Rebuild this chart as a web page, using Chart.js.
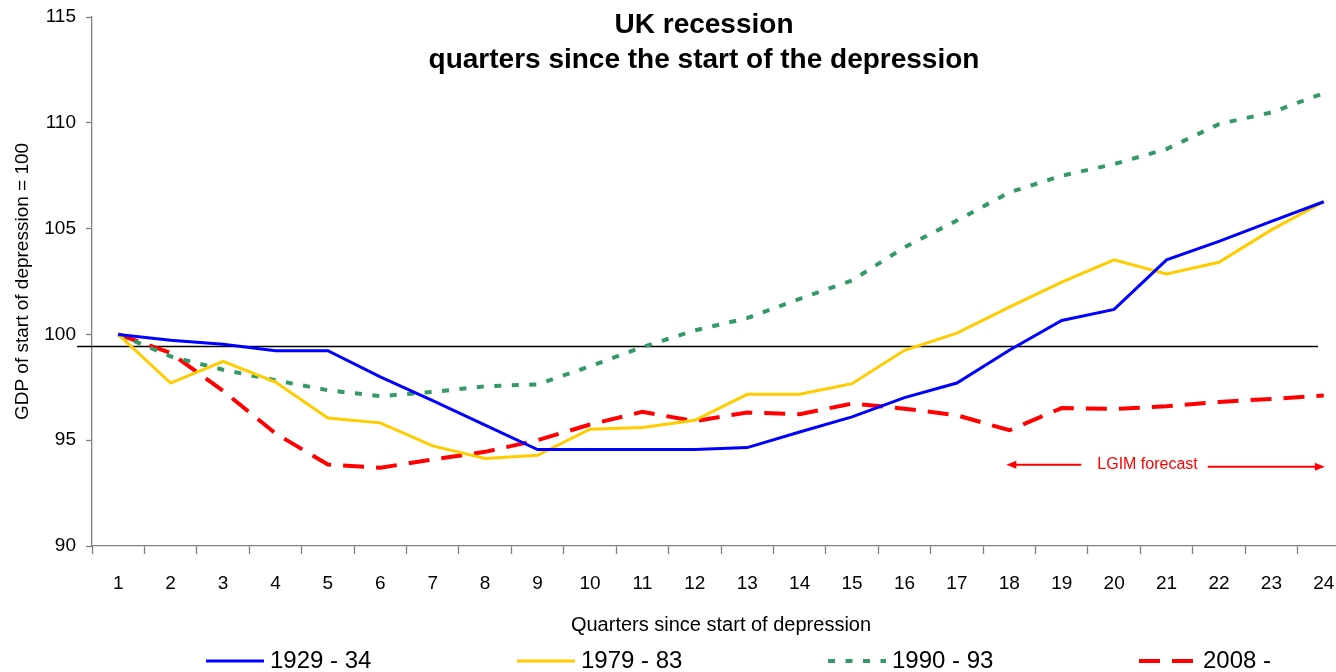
<!DOCTYPE html>
<html>
<head>
<meta charset="utf-8">
<title>UK recession</title>
<script src="https://cdn.jsdelivr.net/npm/chart.js@4.4.1/dist/chart.umd.min.js"></script>
<style>
  html, body { margin: 0; padding: 0; background: #ffffff; overflow: hidden; }
  #wrap { width: 1336px; height: 672px; overflow: hidden; position: relative; }
  canvas { display: block; }
</style>
</head>
<body>
<div id="wrap"><canvas id="chart" width="1408" height="672"></canvas></div>
<script>
// Quarters since the start of each depression
const quarters = ['1','2','3','4','5','6','7','8','9','10','11','12',
                  '13','14','15','16','17','18','19','20','21','22','23','24'];

// GDP indexed to the start of each depression (= 100)
const gdp1929 = [100, 99.72, 99.53, 99.23, 99.23, 97.99, 96.87, 95.71, 94.56, 94.56, 94.56, 94.56,
                 94.65, 95.39, 96.10, 97.01, 97.70, 99.25, 100.66, 101.18, 103.52, 104.40, 105.34, 106.27];
const gdp1979 = [100, 97.70, 98.73, 97.75, 96.05, 95.82, 94.73, 94.14, 94.29, 95.52, 95.60, 95.94,
                 97.17, 97.17, 97.67, 99.25, 100.06, 101.29, 102.47, 103.52, 102.86, 103.41, 104.94, 106.27];
const gdp1990 = [100, 98.96, 98.33, 97.83, 97.36, 97.08, 97.28, 97.55, 97.64, 98.49, 99.40, 100.19,
                 100.77, 101.68, 102.55, 104.12, 105.38, 106.71, 107.50, 108.05, 108.76, 109.94, 110.49, 111.40];
const gdp2008 = [100, 99.12, 97.33, 95.32, 93.85, 93.70, 94.09, 94.45, 95.00, 95.74, 96.34, 95.90,
                 96.31, 96.23, 96.73, 96.49, 96.18, 95.47, 96.52, 96.48, 96.60, 96.81, 96.95, 97.11];

const seriesNames = ['1929 - 34', '1979 - 83', '1990 - 93', '2008 -'];

// Y-axis ticks and the horizontal reference level
const yTicks = [90, 95, 100, 105, 110, 115];
const REF_LEVEL = 99.47;

// Forecast span (first and last quarter of the forecast) and its label
const forecastSpan = ['18', '24'];
const forecastText = 'LGIM forecast';
const forecastLevel = 93.86;

const titleLines = ['UK recession', 'quarters since the start of the depression'];

const FONT = "'Liberation Sans', Arial, Helvetica, sans-serif";

// Two-line bold heading
const headingPlugin = {
  id: 'heading',
  afterDraw(chart) {
    const ctx = chart.ctx;
    ctx.save();
    ctx.fillStyle = '#000000';
    ctx.font = 'bold 28px ' + FONT;
    ctx.textAlign = 'center';
    ctx.textBaseline = 'alphabetic';
    ctx.fillText(titleLines[0], 704, 33);
    ctx.fillText(titleLines[1], 704, 68);
    ctx.restore();
  }
};

// Thin black horizontal line at the reference level
const refLinePlugin = {
  id: 'refLine',
  beforeDatasetsDraw(chart) {
    const {ctx, chartArea, scales} = chart;
    const y = Math.round(scales.y.getPixelForValue(REF_LEVEL)) + 0.5;
    ctx.save();
    ctx.strokeStyle = '#000000';
    ctx.lineWidth = 1.3;
    ctx.beginPath();
    ctx.moveTo(chartArea.left - 15, y);
    ctx.lineTo(chartArea.right - 32, y);
    ctx.stroke();
    ctx.restore();
  }
};

function arrowHead(ctx, x, y, dir) {
  ctx.beginPath();
  ctx.moveTo(x, y);
  ctx.lineTo(x - dir * 10, y - 4);
  ctx.lineTo(x - dir * 10, y + 4);
  ctx.closePath();
  ctx.fill();
}

// Red "forecast" label with arrows spanning the forecast quarters
const forecastPlugin = {
  id: 'forecast',
  afterDatasetsDraw(chart) {
    const {ctx, scales} = chart;
    const xs = scales.x, ys = scales.y;
    const xFrom = xs.getPixelForValue(quarters.indexOf(forecastSpan[0])) - 3;
    const xTo = xs.getPixelForValue(quarters.indexOf(forecastSpan[1])) + 1;
    const y = ys.getPixelForValue(forecastLevel);
    ctx.save();
    ctx.strokeStyle = '#ff0000';
    ctx.fillStyle = '#ff0000';
    ctx.lineWidth = 2;
    ctx.font = '16px ' + FONT;
    ctx.textBaseline = 'middle';
    ctx.textAlign = 'left';
    const textX = xFrom + 91;
    const tw = ctx.measureText(forecastText).width;
    ctx.fillText(forecastText, textX, y);
    // left arrow
    ctx.beginPath();
    ctx.moveTo(xFrom + 75, y + 0.5);
    ctx.lineTo(xFrom + 6, y + 0.5);
    ctx.stroke();
    arrowHead(ctx, xFrom, y + 0.5, -1);
    // right arrow
    const y2 = y + 2.5;
    ctx.beginPath();
    ctx.moveTo(textX + tw + 10, y2);
    ctx.lineTo(xTo - 6, y2);
    ctx.stroke();
    arrowHead(ctx, xTo, y2, 1);
    ctx.restore();
  }
};

// Series key along the bottom, evenly spaced entries
const keyPlugin = {
  id: 'seriesKey',
  afterDraw(chart) {
    const ctx = chart.ctx;
    const startX = 206, step = 311, lineY = 661, sample = 58, textBase = 668;
    ctx.save();
    ctx.font = '24px ' + FONT;
    ctx.textAlign = 'left';
    ctx.textBaseline = 'alphabetic';
    chart.data.datasets.forEach((ds, i) => {
      const x = startX + step * i;
      ctx.strokeStyle = ds.borderColor;
      ctx.lineWidth = ds.borderWidth;
      ctx.lineCap = 'butt';
      ctx.setLineDash(ds.borderDash || []);
      ctx.beginPath();
      ctx.moveTo(x, lineY);
      ctx.lineTo(x + sample, lineY);
      ctx.stroke();
      ctx.setLineDash([]);
      ctx.fillStyle = '#000000';
      ctx.fillText(ds.label, x + sample + 6, textBase);
    });
    ctx.restore();
  }
};

const data = {
  labels: quarters,
  datasets: [
    { label: seriesNames[0], data: gdp1929, borderColor: '#0000ff', borderWidth: 3 },
    { label: seriesNames[1], data: gdp1979, borderColor: '#ffcc00', borderWidth: 3 },
    { label: seriesNames[2], data: gdp1990, borderColor: '#339966', borderWidth: 4, borderDash: [7, 10.5] },
    { label: seriesNames[3], data: gdp2008, borderColor: '#ff0000', borderWidth: 4, borderDash: [21, 12] }
  ].map(ds => Object.assign({
    fill: false, tension: 0, pointRadius: 0, pointHoverRadius: 0,
    borderCapStyle: 'butt', borderJoinStyle: 'miter'
  }, ds))
};

new Chart(document.getElementById('chart'), {
  type: 'line',
  data,
  plugins: [refLinePlugin, forecastPlugin, headingPlugin, keyPlugin],
  options: {
    responsive: false,
    animation: false,
    devicePixelRatio: 1,
    layout: { padding: { top: 17, right: 58, bottom: 35, left: 0 } },
    plugins: {
      legend: { display: false },
      title: { display: false },
      tooltip: { enabled: false }
    },
    scales: {
      x: {
        type: 'category',
        offset: true,
        ticks: { color: '#000000', font: { size: 19, family: FONT }, padding: 18, maxRotation: 0, autoSkip: false },
        grid: { offset: true, drawOnChartArea: false, drawTicks: true, tickLength: 8, tickColor: '#808080', tickWidth: 1.3 },
        border: { color: '#808080', width: 1.3 },
        title: { display: true, text: 'Quarters since start of depression', color: '#000000',
                 font: { size: 20, family: FONT }, padding: { top: 0, bottom: 0 } },
        afterFit(s) { s.height = 91; s.paddingLeft = 0; s.paddingRight = 0; }
      },
      y: {
        min: yTicks[0],
        max: yTicks[yTicks.length - 1],
        afterBuildTicks(s) { s.ticks = yTicks.map(v => ({ value: v })); },
        ticks: { color: '#000000', font: { size: 19, family: FONT }, padding: 10 },
        grid: { drawOnChartArea: false, drawTicks: true, tickLength: 6, tickColor: '#808080', tickWidth: 1.3 },
        border: { color: '#808080', width: 1.3 },
        title: { display: true, text: 'GDP of start of depression = 100', color: '#000000',
                 font: { size: 19, family: FONT }, padding: { top: 11.6, bottom: 0 } },
        afterFit(s) { s.width = 92; s.paddingTop = 0; s.paddingBottom = 0; }
      }
    }
  }
});
</script>
</body>
</html>
